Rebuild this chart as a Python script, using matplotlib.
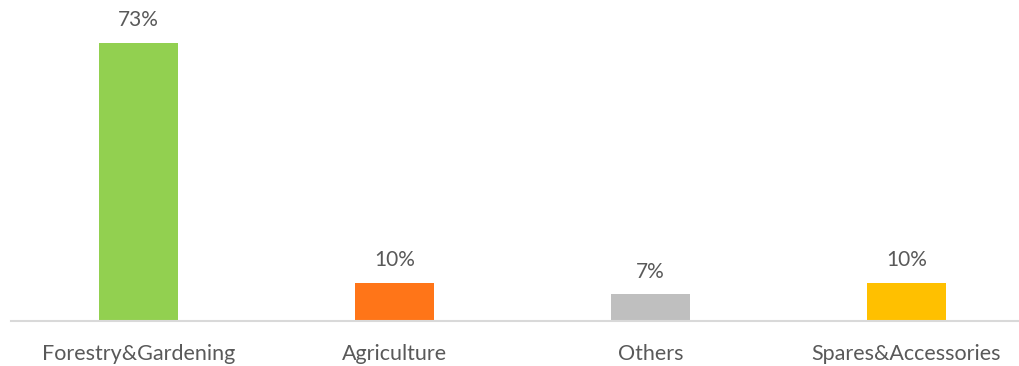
import matplotlib.pyplot as plt

# Share of sales by segment (%)
categories = ["Forestry&Gardening", "Agriculture", "Others", "Spares&Accessories"]
shares = [73, 10, 7, 10]
bar_colors = ["#92D050", "#FF7518", "#BFBFBF", "#FFC000"]

plt.rcParams["font.family"] = ["Lato", "DejaVu Sans"]

fig = plt.figure(figsize=(10.19, 3.66), dpi=100)
# axis spans past the right edge of the figure, as in the original crop
ax = fig.add_axes([10.5 / 1019, 1 - 321 / 366, 1024 / 1019, 304.8 / 366])

x = list(range(len(categories)))
bars = ax.bar(x, shares, width=79 / 256, color=bar_colors)

for rect, v in zip(bars, shares):
    ax.annotate(f"{v}%", (rect.get_x() + rect.get_width() / 2, v),
                xytext=(0, 9), textcoords="offset points",
                ha="center", va="bottom", fontsize=15, color="#595959")

ax.set_xlim(-0.5, len(categories) - 0.5)
ax.set_ylim(0, 80)
ax.set_xticks(x)
ax.set_xticklabels(categories, fontsize=15.5, color="#595959")
ax.tick_params(axis="x", length=0, pad=16.5)
ax.set_yticks([])
for side in ["top", "right", "left"]:
    ax.spines[side].set_visible(False)
ax.spines["bottom"].set_color("#D9D9D9")
ax.spines["bottom"].set_linewidth(1.5)

fig.savefig("out.png", dpi=100)
